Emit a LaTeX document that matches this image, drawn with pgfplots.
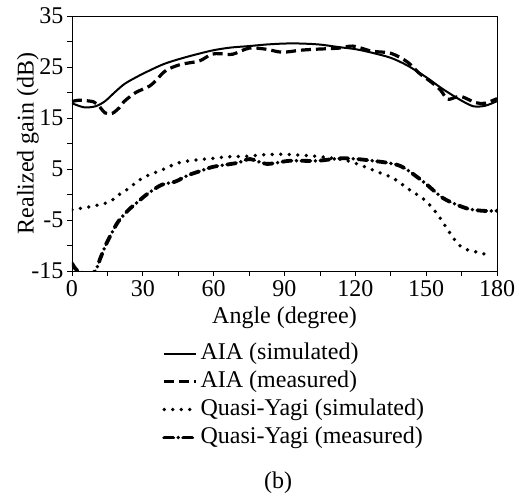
\documentclass[border=0pt]{standalone}
\usepackage{fontspec}
\setmainfont{Liberation Serif}
\usepackage{pgfplots}
\pgfplotsset{compat=1.18}
\begin{document}
\begin{tikzpicture}
\useasboundingbox (-72pt,-229pt) rectangle (453pt,271pt);
\begin{axis}[
  name=ax,
  at={(0pt,0pt)}, anchor=south west,
  width=425pt, height=255pt, scale only axis,
  xmin=0, xmax=180, ymin=-15, ymax=35,
  xtick={0,30,...,180}, minor x tick num=1,
  ytick={-15,-5,...,35}, minor y tick num=1,
  tick pos=left, tick align=outside,
  major tick length=5pt, minor tick length=5pt,
  every tick/.style={black, line width=0.8pt},
  axis line style={line width=0.8pt},
  /pgf/number format/assume math mode=true,
  ticklabel style={font=\fontsize{24}{28}\selectfont},
  xticklabel style={yshift=-1pt},
  xlabel={Angle (degree)}, ylabel={Realized gain (dB)},
  label style={font=\fontsize{24}{28}\selectfont},
  xlabel style={at={(axis description cs:0.5,-0.184)}, anchor=center},
  ylabel style={at={(axis description cs:-0.1035,0.5)}, anchor=center},
  legend style={draw=none, fill=none, at={(axis description cs:0.212,-0.268)}, anchor=north west,
    font=\fontsize{24}{28}\selectfont, inner sep=0pt, row sep=0pt, column sep=0pt,
    nodes={inner sep=2.5pt, text height=17pt, text depth=6pt}},
  legend cell align=left,
  legend image code/.code={\draw[#1] (0pt,0pt) -- (32pt,0pt);},
]
\addplot[black, line width=2pt, smooth] coordinates {
(0,17.9) (5,17.1) (10,17.3) (14,18.3) (18,20.0) (22,21.6) (26,22.7) (31,23.9) (39,25.6) (48,26.9) (59,28.2) (67,28.8) (75,29.1) (82,29.4) (90,29.6) (97,29.6) (105,29.4) (113,28.9) (120,28.5) (127,27.8) (135,26.8) (142,25.3) (150,23.0) (156,21.0) (160,19.8) (165,18.4) (170,17.3) (175,17.4) (180,18.3)};
\addlegendentry{AIA (simulated)}
\addplot[black, line width=3.2pt, dash pattern=on 10pt off 5pt, smooth] coordinates {
(0,18.2) (3,18.5) (9,18.2) (11,17.6) (14,16.0) (17,15.9) (20,17.0) (22,18.2) (27,20.0) (33,21.3) (37,23.1) (40,24.4) (46,25.5) (54,26.2) (59,27.5) (63,27.6) (68,27.5) (75,28.7) (82,28.5) (89,27.9) (97,28.3) (104,28.5) (113,28.7) (119,29.1) (127,28.1) (135,27.7) (142,26.0) (147,23.8) (152,22.1) (156,20.5) (159,18.7) (162,19.0) (165,19.2) (171,18.0) (175,17.9) (180,18.8)};
\addlegendentry{AIA (measured)}
\addplot[black, line width=3.8pt, line cap=round, dash pattern=on 0pt off 8.5pt, smooth] coordinates {
(0,-3.0) (7.6,-2.4) (15,-1.6) (18,-0.75) (21,0.35) (24.6,1.35) (27.4,2.5) (31,3.5) (34.4,4.15) (38,4.8) (45,6.2) (53,6.8) (60,7.1) (66,7.4) (74,7.5) (80,7.75) (88,7.9) (95,7.75) (102,7.55) (111,7.1) (116,6.7) (122,5.8) (129,4.5) (136,3.2) (143,0.9) (149.5,-1.1) (154.5,-3.7) (158.7,-6.6) (163,-9.45) (166.5,-10.7) (173.5,-11.5) (177.5,-12.1)};
\addlegendentry{Quasi-Yagi (simulated)}
\addplot[black, line width=3.8pt, line cap=round, dash pattern=on 9pt off 5pt on 0pt off 5pt, smooth] coordinates {
(0,-13.5) (2,-14.8) (6,-15.5) (9.7,-15.1) (12,-12.5) (14,-10.2) (16.8,-7.6) (19.6,-5.3) (24,-3.0) (28,-1.4) (32.3,0.25) (38,1.9) (43.6,2.5) (49.3,3.8) (55,4.7) (60,5.45) (70,6.2) (75.4,6.95) (82.5,6.0) (92,6.6) (103.6,6.6) (115,7.1) (127.6,6.6) (139,5.6) (148.8,2.5) (157.3,-0.75) (167,-2.7) (174,-3.2) (180,-3.2)};
\addlegendentry{Quasi-Yagi (measured)}
\end{axis}
\node[font=\fontsize{24}{28}\selectfont] at ([shift={(206pt,-212pt)}]ax.south west) {(b)};
\end{tikzpicture}
\end{document}
